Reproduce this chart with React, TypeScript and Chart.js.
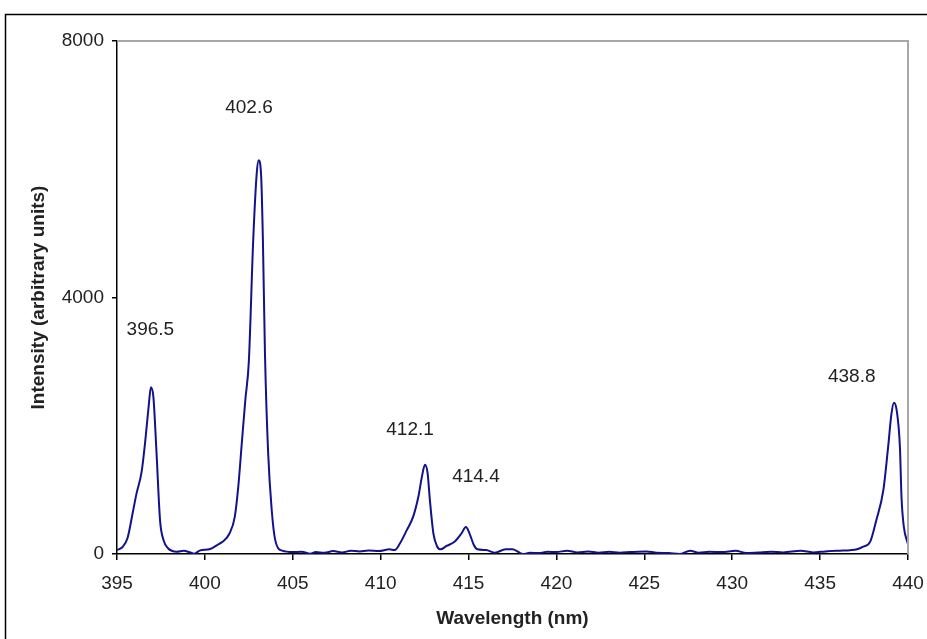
import React, { useEffect, useRef } from "react";
import { Chart, registerables } from "chart.js";

Chart.register(...registerables);

const wavelengths = [
  395.0, 395.3, 395.6, 395.9, 396.1, 396.4, 396.6, 396.8, 396.93, 397.07, 397.25, 397.45, 397.65, 397.9,
  398.4, 398.8, 399.15, 399.4, 399.7, 400.3, 400.7, 401.0, 401.4, 401.7, 401.9, 402.1, 402.3, 402.5,
  402.75, 402.95, 403.06, 403.2, 403.3, 403.42, 403.6, 403.8, 404.0, 404.4, 405.0, 405.5, 406.0, 406.3,
  406.8, 407.3, 407.8, 408.3, 408.8, 409.3, 409.9, 410.5, 410.8, 411.1, 411.5, 411.85, 412.15, 412.35,
  412.52, 412.67, 412.8, 413.0, 413.2, 413.4, 413.75, 414.2, 414.6, 414.85, 415.05, 415.3, 415.5, 416.0,
  416.5, 417.1, 417.5, 418.1, 418.5, 419.0, 419.5, 420.0, 420.6, 421.2, 421.8, 422.4, 423.0, 423.6,
  424.2, 425.1, 425.7, 426.4, 427.0, 427.6, 428.1, 428.7, 429.4, 430.2, 430.8, 431.5, 432.2, 432.9,
  433.9, 434.6, 435.3, 436.1, 436.7, 437.1, 437.45, 437.85, 438.2, 438.6, 438.87, 439.06, 439.2, 439.35,
  439.54, 439.63, 439.76, 440.0,
];

const intensities = [
  62, 105, 250, 650, 930, 1280, 1740, 2300, 2600, 2450, 1570, 520, 215, 90,
  36, 52, 26, 5, 52, 78, 140, 190, 320, 580, 1050, 1730, 2400, 3000,
  4900, 5940, 6140, 5900, 4900, 3100, 1570, 690, 220, 52, 30, 35, 5, 30,
  20, 45, 25, 50, 40, 55, 47, 73, 62, 167, 380, 582, 900, 1210,
  1390, 1260, 840, 320, 125, 73, 125, 192, 323, 420, 323, 140, 73, 62,
  20, 73, 73, 0, 20, 15, 35, 30, 52, 25, 40, 20, 35, 20,
  30, 40, 20, 15, 0, 50, 20, 35, 30, 50, 15, 25, 35, 25,
  50, 25, 40, 52, 60, 73, 114, 192, 530, 1000, 1670, 2190, 2360, 2250,
  1670, 890, 430, 150,
];

const xTicks = [395, 400, 405, 410, 415, 420, 425, 430, 435, 440];
const yTicks = [0, 4000, 8000];

const peakLabels = ["396.5", "402.6", "412.1", "414.4", "438.8"];
const peakLabelX = [396.9, 402.51, 411.67, 415.42, 436.8];
const peakLabelY = [3493, 6955, 1934, 1201, 2760];

const FONT = "'Liberation Sans', Arial, sans-serif";

export default function App() {
  const ref = useRef<HTMLCanvasElement>(null);

  useEffect(() => {
    const canvas = ref.current;
    if (!canvas) return;

    const framePlugin = {
      id: "frame",
      beforeDraw(chart: any) {
        const ctx = chart.ctx;
        ctx.save();
        ctx.fillStyle = "#ffffff";
        ctx.fillRect(0, 0, chart.width, chart.height);
        ctx.strokeStyle = "#000000";
        ctx.lineWidth = 1.5;
        ctx.beginPath();
        ctx.moveTo(5.5, chart.height + 5);
        ctx.lineTo(5.5, 14.5);
        ctx.lineTo(chart.width + 5, 14.5);
        ctx.stroke();
        ctx.restore();
      },
      afterDatasetsDraw(chart: any) {
        const ctx = chart.ctx;
        const { left, right, top, bottom } = chart.chartArea;
        ctx.save();
        ctx.strokeStyle = "#a8a8a8";
        ctx.lineWidth = 2;
        ctx.beginPath();
        ctx.moveTo(left, top);
        ctx.lineTo(right, top);
        ctx.lineTo(right, bottom);
        ctx.stroke();
        const xs = chart.scales.x;
        const ys = chart.scales.y;
        ctx.fillStyle = "#222222";
        ctx.font = `19px ${FONT}`;
        ctx.textAlign = "center";
        ctx.textBaseline = "middle";
        peakLabels.forEach((t, i) => {
          ctx.fillText(t, xs.getPixelForValue(peakLabelX[i]), ys.getPixelForValue(peakLabelY[i]));
        });
        ctx.restore();
      },
    };

    const chart = new Chart(canvas, {
      type: "line",
      data: {
        datasets: [
          {
            data: wavelengths.map((w, i) => ({ x: w, y: intensities[i] })),
            borderColor: "#12128c",
            borderWidth: 2,
            pointRadius: 0,
            fill: false,
            cubicInterpolationMode: "monotone",
          },
        ],
      },
      options: {
        animation: false,
        responsive: false,
        maintainAspectRatio: false,
        layout: { padding: { top: 41, right: 19, bottom: 0, left: 0 } },
        plugins: { legend: { display: false }, tooltip: { enabled: false } },
        scales: {
          x: {
            type: "linear",
            min: 395,
            max: 440,
            afterBuildTicks: (s: any) => {
              s.ticks = xTicks.map((v) => ({ value: v }));
            },
            afterFit: (s: any) => {
              s.height = 85;
              s.paddingLeft = 0;
              s.paddingRight = 0;
            },
            grid: { drawOnChartArea: false, drawTicks: true, tickLength: 6, color: "#000", lineWidth: 1.5 },
            border: { color: "#000", width: 1.5 },
            ticks: {
              color: "#222",
              font: { family: FONT, size: 19 },
              padding: 12,
              maxRotation: 0,
              autoSkip: false,
              callback: (v: any) => String(v),
            },
            title: {
              display: true,
              text: "Wavelength (nm)",
              color: "#222",
              font: { family: FONT, size: 19, weight: "bold" },
              padding: { top: 0, bottom: 9 },
            },
          },
          y: {
            type: "linear",
            min: 0,
            max: 8000,
            afterBuildTicks: (s: any) => {
              s.ticks = yTicks.map((v) => ({ value: v }));
            },
            afterFit: (s: any) => {
              s.width = 117;
              s.paddingTop = 0;
              s.paddingBottom = 0;
            },
            grid: { drawOnChartArea: false, drawTicks: true, tickLength: 5, color: "#000", lineWidth: 1.5 },
            border: { color: "#000", width: 1.5 },
            ticks: {
              color: "#222",
              font: { family: FONT, size: 19 },
              padding: 8,
              callback: (v: any) => String(v),
            },
            title: {
              display: true,
              text: "Intensity (arbitrary units)",
              color: "#222",
              font: { family: FONT, size: 19, weight: "bold" },
              padding: { top: 27, bottom: 0 },
            },
          },
        },
      },
      plugins: [framePlugin],
    });

    return () => chart.destroy();
  }, []);

  return (
    <div style={{ position: "absolute", left: 0, top: 0, width: 927, height: 639 }}>
      <canvas ref={ref} width={927} height={639} style={{ display: "block" }} />
    </div>
  );
}
